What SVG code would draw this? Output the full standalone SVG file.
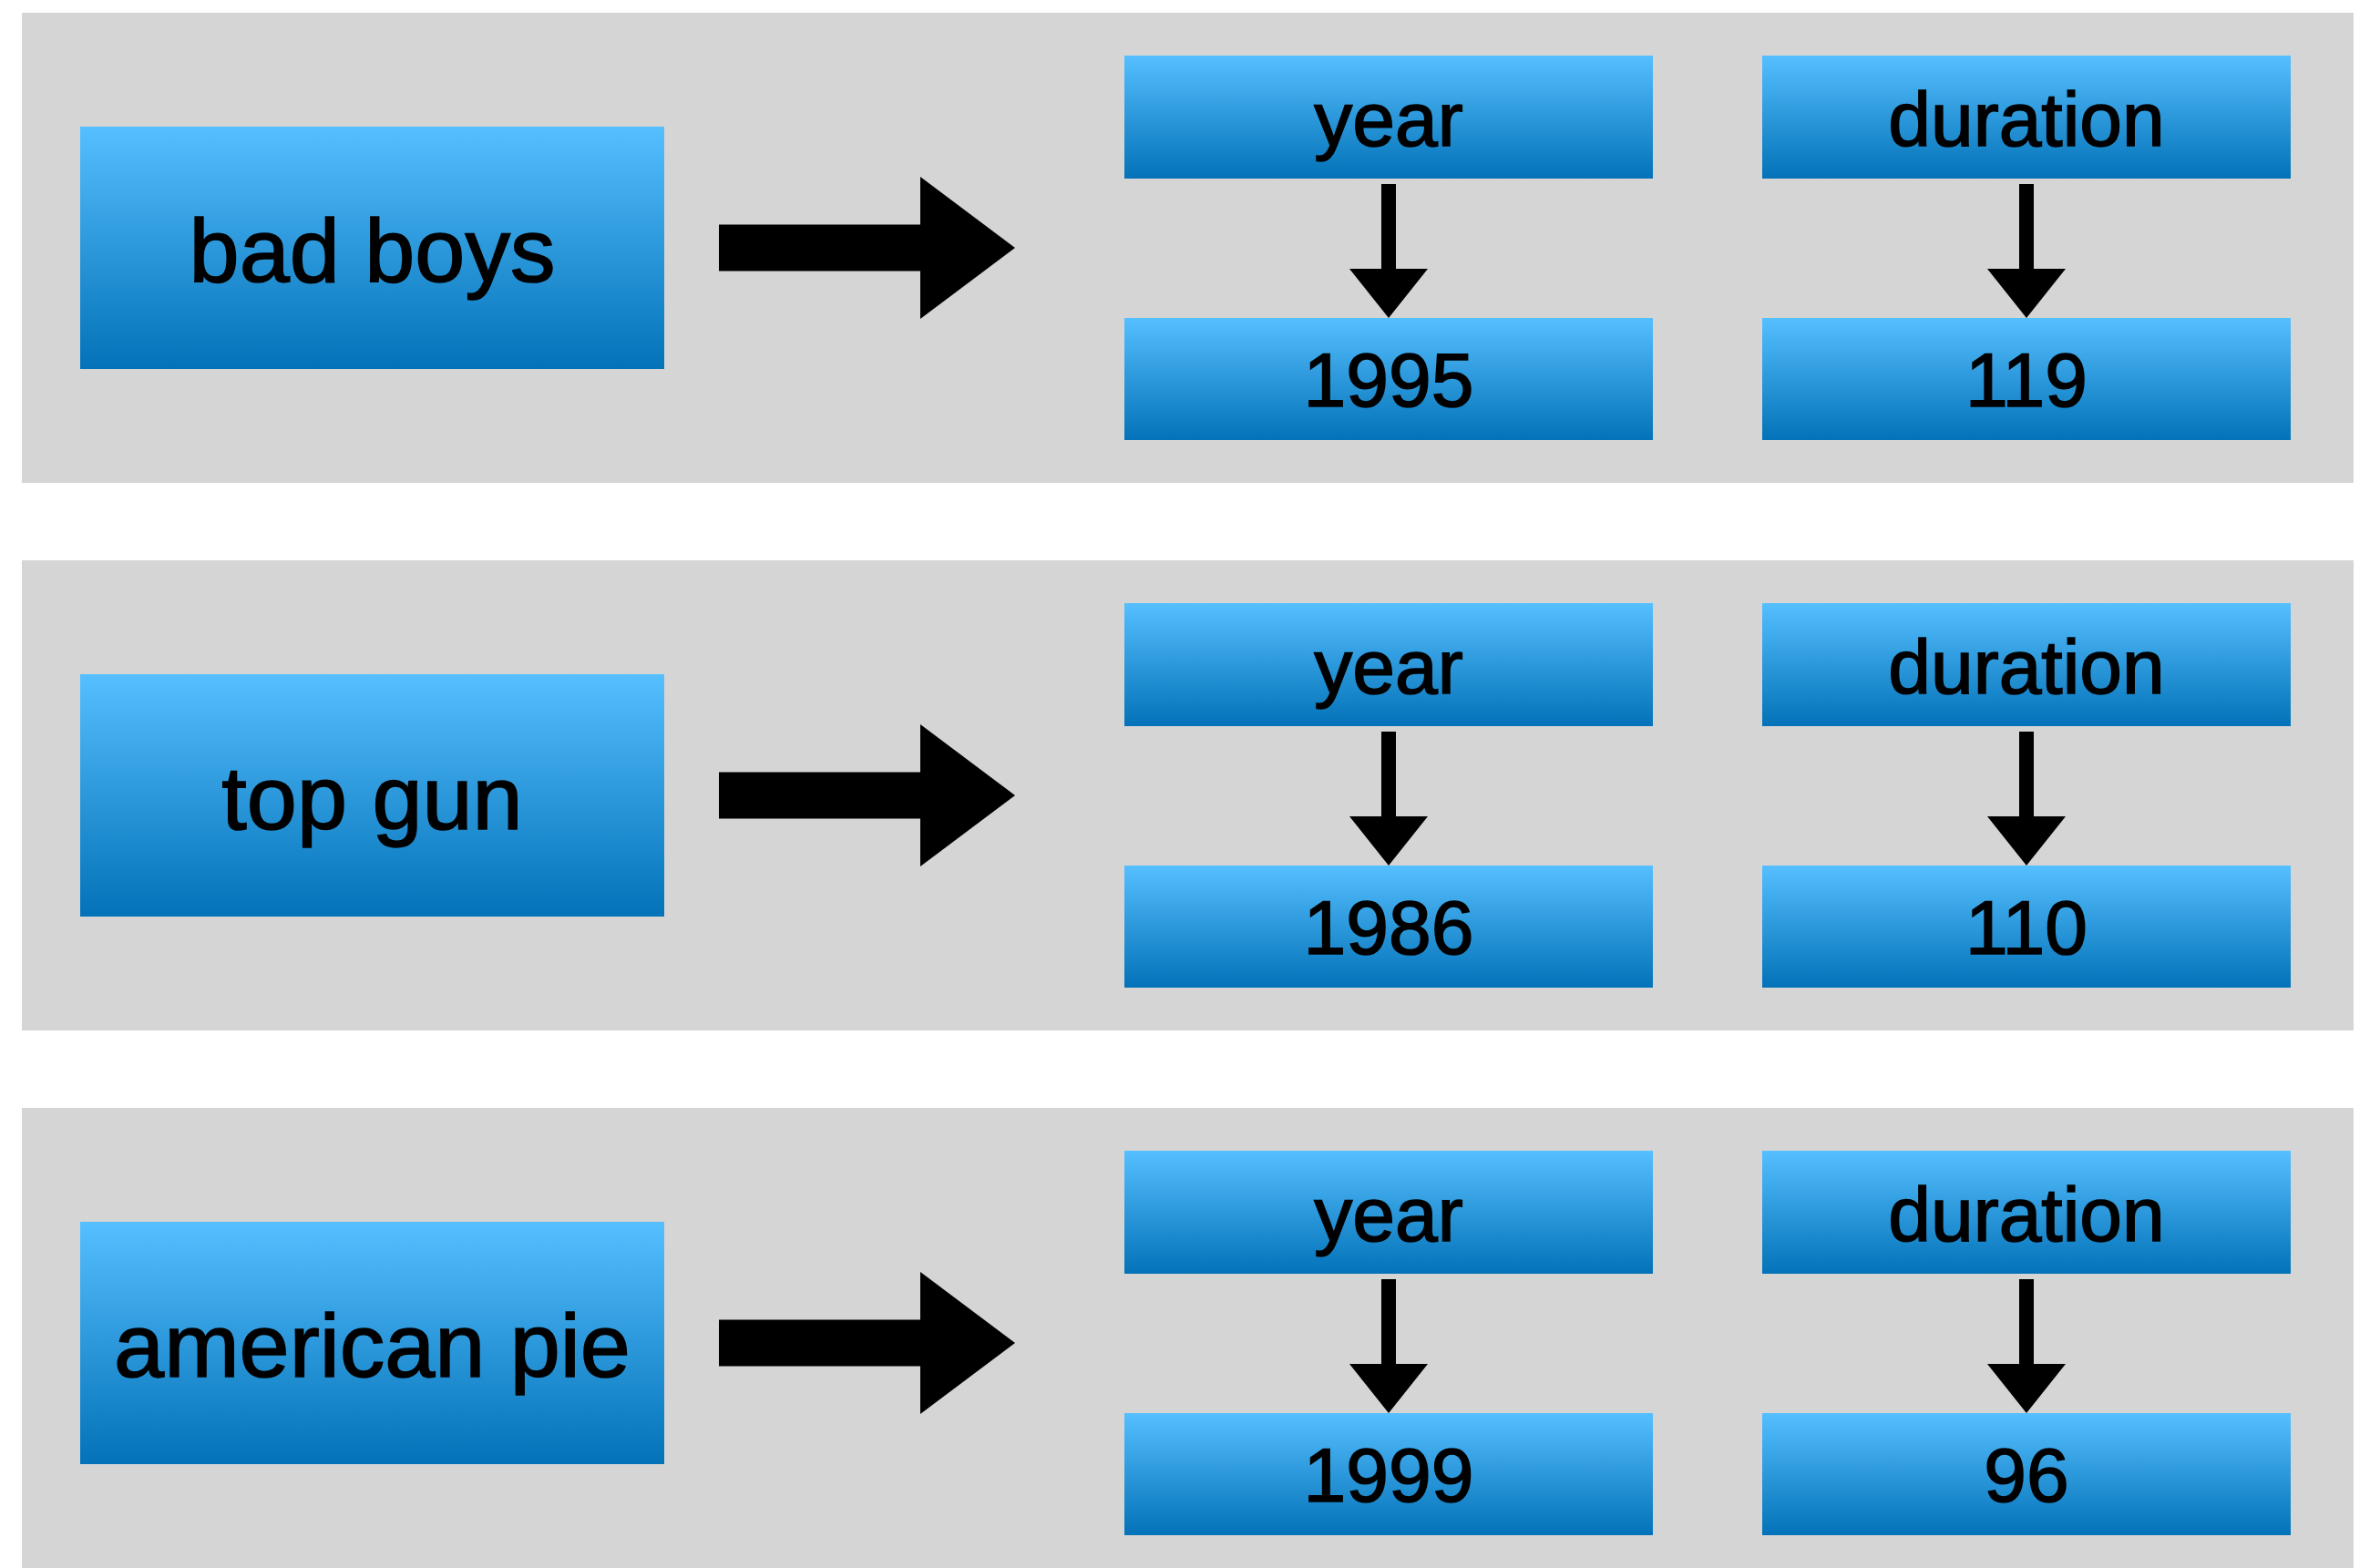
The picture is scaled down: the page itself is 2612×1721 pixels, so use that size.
<svg xmlns="http://www.w3.org/2000/svg" width="2612" height="1721" viewBox="0 0 2612 1721">
<defs>
<linearGradient id="blue" x1="0" y1="0" x2="0" y2="1">
<stop offset="0" stop-color="#55BFFF"/>
<stop offset="1" stop-color="#0372B8"/>
</linearGradient>
<marker id="bigHead" viewBox="0 0 104 156" refX="0" refY="78" markerWidth="104" markerHeight="156" markerUnits="userSpaceOnUse" orient="auto">
<path d="M0,0 L104,78 L0,156 Z" fill="#000"/>
</marker>
<marker id="smallHead" viewBox="0 0 54 86" refX="0" refY="43" markerWidth="54" markerHeight="86" markerUnits="userSpaceOnUse" orient="auto">
<path d="M0,0 L54,43 L0,86 Z" fill="#000"/>
</marker>
</defs>
<style>
.panel{fill:#D5D5D5}
.box{fill:url(#blue)}
.t{font-family:"Liberation Sans",Arial,Helvetica,sans-serif;fill:#000;stroke:#000;stroke-width:1.6;text-anchor:middle}
.big{font-size:99px}
.small{font-size:84px}
.bigArrow{stroke:#000;stroke-width:51;fill:none;marker-end:url(#bigHead)}
.smallArrow{stroke:#000;stroke-width:16;fill:none;marker-end:url(#smallHead)}
</style>
<rect width="2612" height="1721" fill="#fff"/>

<g id="panel1">
<rect class="panel" x="24" y="14" width="2559" height="516"/>
</g>
<g id="panel2">
<rect class="panel" x="24" y="615" width="2559" height="516"/>
</g>
<g id="panel3">
<rect class="panel" x="24" y="1216" width="2559" height="516"/>
</g>

<g id="movie1">
<rect class="box" x="88" y="139" width="641" height="266"/>
<text class="t big" x="408.5" y="309">bad boys</text>
</g>
<g id="year1">
<rect class="box" x="1234" y="61" width="580" height="135"/>
<text class="t small" x="1524" y="160">year</text>
</g>
<g id="yearval1">
<rect class="box" x="1234" y="349" width="580" height="134"/>
<text class="t small" x="1524" y="446">1995</text>
</g>
<g id="dur1">
<rect class="box" x="1934" y="61" width="580" height="135"/>
<text class="t small" x="2224" y="160">duration</text>
</g>
<g id="durval1">
<rect class="box" x="1934" y="349" width="580" height="134"/>
<text class="t small" x="2224" y="446">119</text>
</g>

<g id="movie2">
<rect class="box" x="88" y="740" width="641" height="266"/>
<text class="t big" x="408.5" y="910">top gun</text>
</g>
<g id="year2">
<rect class="box" x="1234" y="662" width="580" height="135"/>
<text class="t small" x="1524" y="761">year</text>
</g>
<g id="yearval2">
<rect class="box" x="1234" y="950" width="580" height="134"/>
<text class="t small" x="1524" y="1047">1986</text>
</g>
<g id="dur2">
<rect class="box" x="1934" y="662" width="580" height="135"/>
<text class="t small" x="2224" y="761">duration</text>
</g>
<g id="durval2">
<rect class="box" x="1934" y="950" width="580" height="134"/>
<text class="t small" x="2224" y="1047">110</text>
</g>

<g id="movie3">
<rect class="box" x="88" y="1341" width="641" height="266"/>
<text class="t big" x="408.5" y="1511">american pie</text>
</g>
<g id="year3">
<rect class="box" x="1234" y="1263" width="580" height="135"/>
<text class="t small" x="1524" y="1362">year</text>
</g>
<g id="yearval3">
<rect class="box" x="1234" y="1551" width="580" height="134"/>
<text class="t small" x="1524" y="1648">1999</text>
</g>
<g id="dur3">
<rect class="box" x="1934" y="1263" width="580" height="135"/>
<text class="t small" x="2224" y="1362">duration</text>
</g>
<g id="durval3">
<rect class="box" x="1934" y="1551" width="580" height="134"/>
<text class="t small" x="2224" y="1648">96</text>
</g>

<g id="connectors">
<line class="bigArrow" x1="789" y1="272" x2="1010" y2="272"/>
<line class="smallArrow" x1="1524" y1="202" x2="1524" y2="295"/>
<line class="smallArrow" x1="2224" y1="202" x2="2224" y2="295"/>
<line class="bigArrow" x1="789" y1="873" x2="1010" y2="873"/>
<line class="smallArrow" x1="1524" y1="803" x2="1524" y2="896"/>
<line class="smallArrow" x1="2224" y1="803" x2="2224" y2="896"/>
<line class="bigArrow" x1="789" y1="1474" x2="1010" y2="1474"/>
<line class="smallArrow" x1="1524" y1="1404" x2="1524" y2="1497"/>
<line class="smallArrow" x1="2224" y1="1404" x2="2224" y2="1497"/>
</g>
</svg>
